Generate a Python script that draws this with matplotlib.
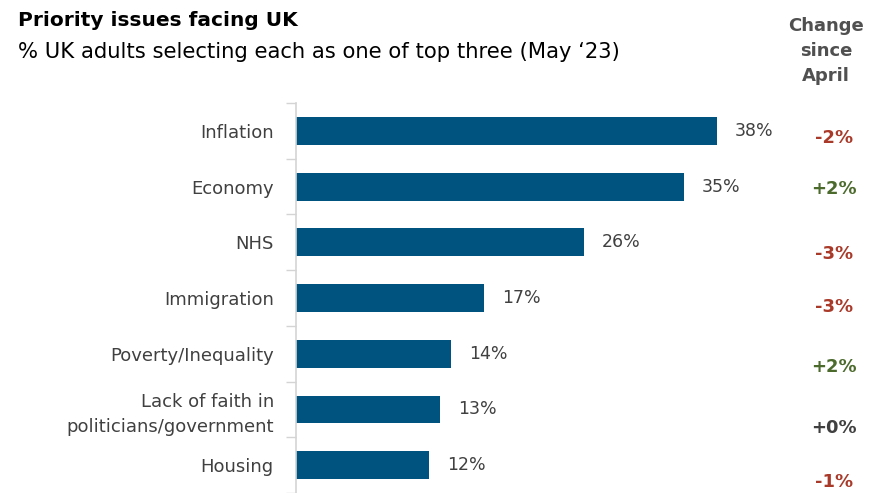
import matplotlib.pyplot as plt
import matplotlib.transforms as mtransforms

issues = ["Inflation", "Economy", "NHS", "Immigration", "Poverty/Inequality",
          "Lack of faith in\npoliticians/government", "Housing"]
share = [38, 35, 26, 17, 14, 13, 12]
change = [-2, 2, -3, -3, 2, 0, -1]

# vertical nudge of the change column relative to each bar (in bar units)
change_offset = [0.12, 0.05, 0.21, 0.16, 0.23, 0.34, 0.30]

BAR = "#00527f"
TXT = "#404040"
RED = "#a93a2a"
GREEN = "#4b6a2c"

plt.rcParams["font.family"] = ["DejaVu Sans"]

fig = plt.figure(figsize=(8.93, 4.93), dpi=100)
ax = fig.add_axes([296 / 893, 0.0, 600 / 893, 1 - 103 / 493])

ypos = list(range(len(issues)))
ax.barh(ypos, share, height=0.5, color=BAR)
ax.set_ylim(len(issues) - 0.5 - 0.04, -0.5)
ax.set_xlim(0, 600 / 11.08)

for y, v in zip(ypos, share):
    ax.text(v + 1.6, y, f"{v}%", va="center", ha="left", fontsize=12.5, color=TXT)

# change-since-April column sits in figure x, data y
col_trans = mtransforms.blended_transform_factory(fig.transFigure, ax.transData)
for y, c, off in zip(ypos, change, change_offset):
    col = RED if c < 0 else (GREEN if c > 0 else TXT)
    ax.text(834 / 893, y + off, f"{c:+d}%", transform=col_trans, ha="center",
            va="center", fontsize=13, fontweight="bold", color=col, clip_on=False)

# category labels and boundary ticks
ax.set_yticks(ypos)
ax.set_yticklabels(issues, fontsize=13, color=TXT, linespacing=1.5)
ax.tick_params(axis="y", length=0, pad=16)
ax.set_yticks([y + 0.5 for y in [-1] + ypos], minor=True)
ax.tick_params(axis="y", which="minor", length=7, color="#d4d4d4", width=1)
ax.set_xticks([])
for s in ["top", "right", "bottom"]:
    ax.spines[s].set_visible(False)
ax.spines["left"].set_color("#d4d4d4")
ax.spines["left"].set_linewidth(1.2)

fig.text(18 / 893, 1 - 20 / 493, "Priority issues facing UK", fontsize=14.5,
         fontweight="bold", color="black", va="center")
fig.text(18 / 893, 1 - 52 / 493, "% UK adults selecting each as one of top three (May \u201823)",
         fontsize=15.2, color="black", va="center")
fig.text(826 / 893, 1 - 51 / 493, "Change\nsince\nApril", fontsize=13,
         fontweight="bold", color="#505050", ha="center", va="center", linespacing=1.5)

fig.savefig("out.png", dpi=100)
